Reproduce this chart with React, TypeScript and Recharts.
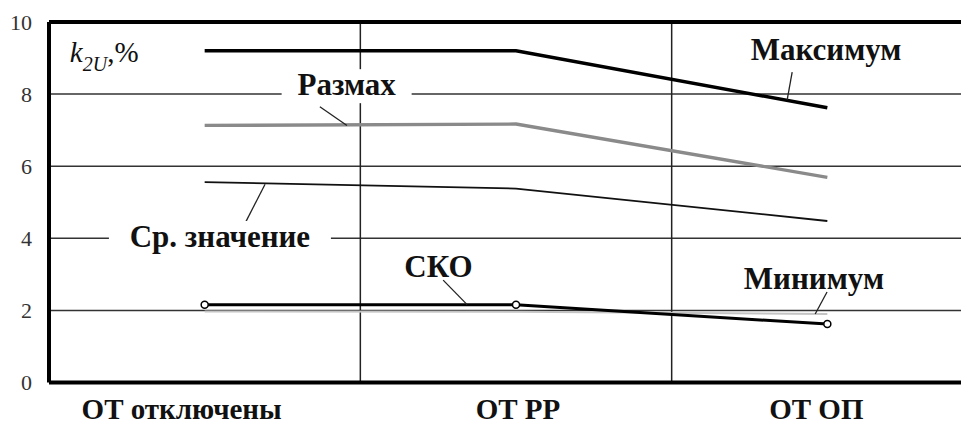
import React from 'react';
import { LineChart, Line, XAxis, YAxis, CartesianGrid, ReferenceLine, ReferenceDot } from 'recharts';

const categories = ['ОТ отключены', 'ОТ РР', 'ОТ ОП'];
const categoryX = [0.5, 1.5, 2.5];
const maximum = [9.2, 9.2, 7.62];
const spread = [7.13, 7.17, 5.69];
const mean = [5.56, 5.38, 4.48];
const sko = [2.16, 2.16, 1.62];
const minimum = [1.97, 1.96, 1.9];
const yTicks = [0, 2, 4, 6, 8, 10];
const sectionBounds = [1, 2];

const data = categoryX.map((x, i) => ({
  x,
  maximum: maximum[i],
  spread: spread[i],
  mean: mean[i],
  sko: sko[i],
  minimum: minimum[i],
}));

// series captions with their leader lines (in axis units)
const notes = [
  { text: 'Размах', x: 0.956, y: 7.97, from: [0.87, 7.65], to: [0.957, 7.13], clear: 65 },
  { text: 'Максимум', x: 2.496, y: 8.95, from: [2.387, 8.61], to: [2.371, 7.84], clear: 0 },
  { text: 'Ср. значение', x: 0.549, y: 3.76, from: [0.63, 4.42], to: [0.694, 5.5], clear: 111 },
  { text: 'СКО', x: 1.251, y: 2.92, from: [1.266, 2.84], to: [1.343, 2.16], clear: 0 },
  { text: 'Минимум', x: 2.457, y: 2.585, from: [2.499, 2.51], to: [2.461, 1.9], clear: 0 },
];

const FONT = 'Liberation Serif';

function CategoryTick(props: any) {
  const { x, y, payload } = props;
  const i = categoryX.indexOf(payload.value);
  const shift = [-23, 2, -11];
  return (
    <text x={x + (shift[i] || 0)} y={y} dy="0.71em" textAnchor="middle"
      fontFamily={FONT} style={{ fontFamily: FONT }} fontWeight="bold" fontSize={29} fill="#111">
      {categories[i]}
    </text>
  );
}

function NoteShape(props: any) {
  const { cx, cy, text, clear } = props;
  return (
    <g>
      {clear > 0 && <rect x={cx - clear} y={cy - 26} width={clear * 2} height={34} fill="#fff" />}
      <text x={cx} y={cy} textAnchor="middle" fontFamily={FONT} style={{ fontFamily: FONT }}
        fontWeight="bold" fontSize={31} fill="#111">
        {text}
      </text>
    </g>
  );
}

function UnitShape(props: any) {
  const { cx, cy } = props;
  return (
    <text x={cx} y={cy} fontFamily={FONT} style={{ fontFamily: FONT }} fontSize={29} fill="#111">
      <tspan fontStyle="italic">k</tspan>
      <tspan fontStyle="italic" fontSize={20} dy={9}>2U</tspan>
      <tspan dy={-9}>,%</tspan>
    </text>
  );
}

function ValueTick(props: any) {
  const { x, y, payload } = props;
  return (
    <text x={x} y={y} dy="0.35em" textAnchor="end" fontFamily={FONT} style={{ fontFamily: FONT }}
      fontSize={22} fill="#333">
      {payload.value}
    </text>
  );
}

export default function App() {
  return (
    <div style={{ margin: -8, width: 969, height: 430, background: '#fff' }}>
      <LineChart width={969} height={430} data={data} margin={{ top: 22, right: 0, bottom: 0, left: 0 }}>
        <CartesianGrid vertical={false} stroke="#333" strokeWidth={1.5} />
        <XAxis
          type="number"
          dataKey="x"
          domain={[0, 2.955]}
          ticks={categoryX}
          interval={0}
          height={47.5}
          tickLine={false}
          tickSize={0}
          tickMargin={16}
          axisLine={{ stroke: '#000', strokeWidth: 4 }}
          tick={<CategoryTick />}
        />
        <YAxis
          type="number"
          domain={[0, 10]}
          ticks={yTicks}
          width={49}
          tickLine={false}
          tickSize={0}
          tickMargin={17}
          axisLine={{ stroke: '#000', strokeWidth: 4 }}
          tick={<ValueTick />}
        />
        {sectionBounds.map((b) => (
          <ReferenceLine key={b} x={b} stroke="#222" strokeWidth={1.5} />
        ))}
        <ReferenceLine y={10} stroke="#000" strokeWidth={4} />

        <Line type="linear" dataKey="minimum" stroke="#c4c4c4" strokeWidth={2} dot={false} activeDot={false} isAnimationActive={false} />
        <Line type="linear" dataKey="mean" stroke="#111" strokeWidth={1.8} dot={false} activeDot={false} isAnimationActive={false} />
        <Line type="linear" dataKey="spread" stroke="#8a8a8a" strokeWidth={3.3} dot={false} activeDot={false} isAnimationActive={false} />
        <Line type="linear" dataKey="maximum" stroke="#000" strokeWidth={3.5} dot={false} activeDot={false} isAnimationActive={false} />
        <Line type="linear" dataKey="sko" stroke="#000" strokeWidth={3} activeDot={false} isAnimationActive={false}
          dot={{ r: 3.5, fill: '#fff', stroke: '#000', strokeWidth: 1.5 }} />

        {notes.map((n) => (
          <ReferenceDot key={n.text} x={n.x} y={n.y} r={0}
            shape={(p: any) => <NoteShape {...p} text={n.text} clear={n.clear} />} />
        ))}
        {notes.map((n) => (
          <ReferenceLine key={'l' + n.text} stroke="#222" strokeWidth={1.3}
            segment={[{ x: n.from[0], y: n.from[1] }, { x: n.to[0], y: n.to[1] }]} />
        ))}
        <ReferenceDot x={0.067} y={8.9} r={0} shape={(p: any) => <UnitShape {...p} />} />
      </LineChart>
    </div>
  );
}
